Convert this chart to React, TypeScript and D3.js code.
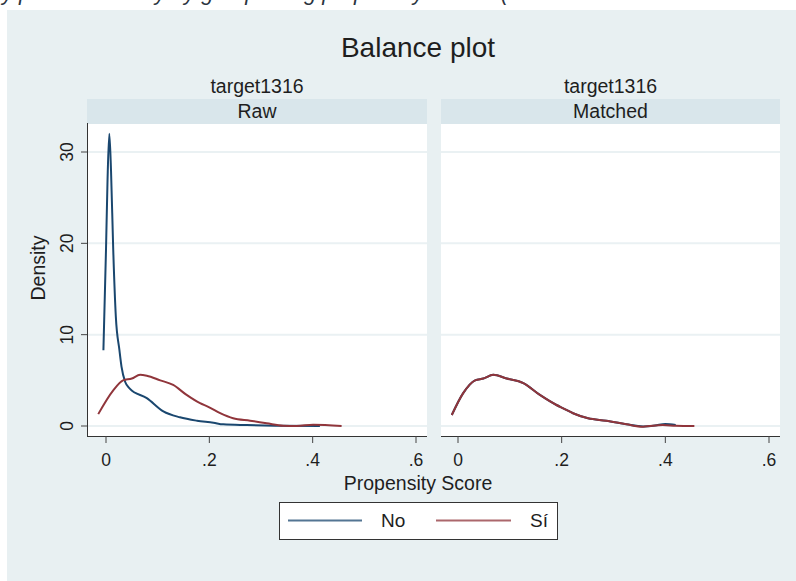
import React from "react";
import * as d3 from "d3";

// ---------- data ----------
const seriesNames = ["No", "Sí"];
const panelNames = ["Raw", "Matched"];
const panelSuper = "target1316";
const xTicks = [0, 0.2, 0.4, 0.6];
const xTickLabels = ["0", ".2", ".4", ".6"];
const yTicks = [0, 10, 20, 30];

// Raw panel
const rawNoX = [-0.005, 0.0, 0.003, 0.0064, 0.0097, 0.014, 0.019, 0.026, 0.03, 0.037, 0.046, 0.079, 0.111, 0.143, 0.176, 0.208, 0.227, 0.272, 0.337, 0.414];
const rawNoY = [8.3, 19.3, 27, 32, 28, 19.3, 12, 8.3, 6.5, 4.85, 4.1, 3.05, 1.6, 0.95, 0.58, 0.36, 0.18, 0.1, 0.03, 0.0];
const rawSiX = [-0.015, 0.014, 0.033, 0.05, 0.066, 0.079, 0.105, 0.13, 0.156, 0.182, 0.198, 0.221, 0.246, 0.279, 0.311, 0.343, 0.369, 0.401, 0.456];
const rawSiY = [1.3, 3.9, 5.0, 5.2, 5.6, 5.5, 5.0, 4.5, 3.4, 2.5, 2.1, 1.4, 0.84, 0.58, 0.3, 0.03, 0.0, 0.14, 0.0];

// Matched panel
const matNoX = [-0.012, 0.01, 0.033, 0.049, 0.068, 0.094, 0.126, 0.158, 0.19, 0.203, 0.222, 0.251, 0.286, 0.325, 0.357, 0.38, 0.4, 0.42];
const matNoY = [1.2, 3.6, 5.0, 5.2, 5.6, 5.2, 4.7, 3.4, 2.3, 1.94, 1.4, 0.84, 0.58, 0.19, -0.05, 0.05, 0.22, 0.1];
const matSiX = [-0.012, 0.01, 0.033, 0.049, 0.068, 0.094, 0.126, 0.158, 0.19, 0.203, 0.222, 0.251, 0.286, 0.325, 0.357, 0.395, 0.42, 0.456];
const matSiY = [1.2, 3.6, 5.0, 5.2, 5.6, 5.2, 4.7, 3.4, 2.3, 1.94, 1.4, 0.84, 0.58, 0.19, -0.07, 0.1, 0.03, 0.0];

const colors = ["#1a476f", "#90353b"];

const FONT = "Arial, 'Liberation Sans', Helvetica, sans-serif";
const TXT = "#1e1e1e";

export default function App() {
  const W = 796;
  const H = 581;
  const plotTop = 124;
  const plotBottom = 436;
  const stripTop = 99;

  const y = d3.scaleLinear().domain([0, 30]).range([426, 152]);

  const panels = [
    { name: panelNames[0], left: 87, right: 427, x: d3.scaleLinear().domain([0, 0.6]).range([106, 416]),
      data: [d3.zip(rawNoX, rawNoY), d3.zip(rawSiX, rawSiY)], yAxis: true },
    { name: panelNames[1], left: 441, right: 780, x: d3.scaleLinear().domain([0, 0.6]).range([458, 769]),
      data: [d3.zip(matNoX, matNoY), d3.zip(matSiX, matSiY)], yAxis: false },
  ];

  return (
    <svg width={W} height={H} style={{ position: "absolute", left: 0, top: 0 }} fontFamily={FONT}>
      <rect x={0} y={0} width={W} height={H} fill="#ffffff" />
      {/* bottom edge of a caption from the page above */}
      <text x={-3} y={0} fontSize={22} fontStyle="italic" fill="#2b3440">
        ly plots of density by group using propensity scores (
      </text>
      <rect x={7} y={10} width={W - 7} height={H - 10} fill="#e8f0f2" />
      <text x={418} y={57} textAnchor="middle" fontSize={28} fill={TXT}>Balance plot</text>

      {panels.map((p, pi) => {
        const line = d3.line<[number, number]>()
          .x((d) => p.x(d[0]))
          .y((d) => y(d[1]))
          .curve(d3.curveMonotoneX);
        const cx = (p.left + p.right) / 2;
        return (
          <g key={pi}>
            <text x={cx} y={93} textAnchor="middle" fontSize={19.5} fill={TXT}>{panelSuper}</text>
            <rect x={p.left} y={stripTop} width={p.right - p.left} height={plotTop - stripTop} fill="#d9e6eb" />
            <text x={cx} y={118} textAnchor="middle" fontSize={19.5} fill={TXT}>{p.name}</text>
            <rect x={p.left} y={plotTop} width={p.right - p.left} height={plotBottom - plotTop} fill="#ffffff" />
            {yTicks.map((t) => (
              <line key={t} x1={p.left} x2={p.right} y1={y(t)} y2={y(t)} stroke="#eaf1f3" strokeWidth={2} />
            ))}
            {p.data.map((d, si) => (
              <path key={si} d={line(d as [number, number][]) || ""} fill="none" stroke={colors[si]} strokeWidth={2} strokeLinejoin="round" />
            ))}
            {/* x axis */}
            <line x1={p.left} x2={p.right} y1={plotBottom + 0.5} y2={plotBottom + 0.5} stroke="#333" strokeWidth={1} />
            {xTicks.map((t, i) => (
              <g key={t}>
                <line x1={p.x(t)} x2={p.x(t)} y1={plotBottom} y2={plotBottom + 7} stroke="#444" strokeWidth={1} />
                <text x={p.x(t)} y={466} textAnchor="middle" fontSize={17.5} fill={TXT}>{xTickLabels[i]}</text>
              </g>
            ))}
            {p.yAxis && (
              <g>
                <line x1={p.left + 0.5} x2={p.left + 0.5} y1={plotTop - 1} y2={plotBottom + 1} stroke="#333" strokeWidth={1} />
                {yTicks.map((t) => (
                  <g key={t}>
                    <line x1={p.left - 6} x2={p.left} y1={y(t)} y2={y(t)} stroke="#444" strokeWidth={1} />
                    <text transform={`translate(${73},${y(t)}) rotate(-90)`} textAnchor="middle" fontSize={17.5} fill={TXT}>{String(t)}</text>
                  </g>
                ))}
              </g>
            )}
          </g>
        );
      })}

      <text transform="translate(45,268) rotate(-90)" textAnchor="middle" fontSize={19.5} fill={TXT}>Density</text>
      <text x={418} y={490} textAnchor="middle" fontSize={19.5} fill={TXT}>Propensity Score</text>

      {/* legend */}
      <rect x={279.5} y={502.5} width={278} height={37} fill="#ffffff" stroke="#333" strokeWidth={1} />
      <line x1={288} x2={362} y1={520.5} y2={520.5} stroke={colors[0]} strokeWidth={2} opacity={0.75} />
      <text x={381} y={527} fontSize={19} fill={TXT}>{seriesNames[0]}</text>
      <line x1={436} x2={511} y1={520.5} y2={520.5} stroke={colors[1]} strokeWidth={2} opacity={0.75} />
      <text x={530} y={527} fontSize={19} fill={TXT}>{seriesNames[1]}</text>
    </svg>
  );
}
